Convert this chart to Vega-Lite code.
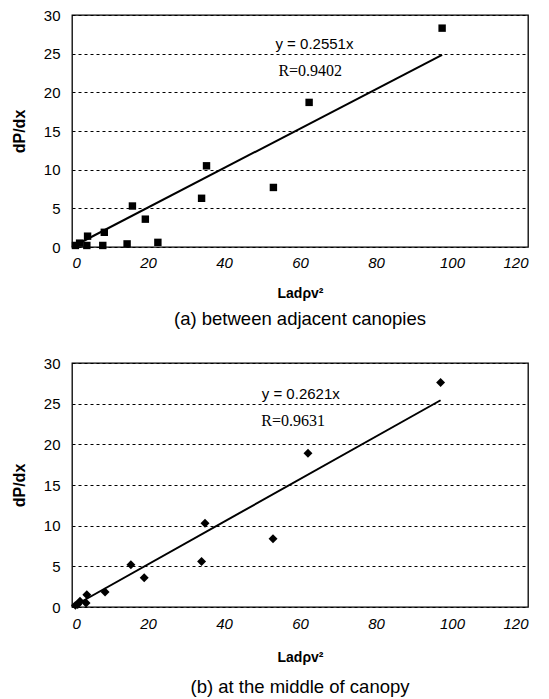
{
  "$schema": "https://vega.github.io/schema/vega-lite/v6.json",
  "background": "white",
  "padding": {"left": 10, "top": 7, "right": 5, "bottom": 2},
  "spacing": 25,
  "datasets": {
    "a_pts": [
      {"x": 97.4, "y": 28.3}, {"x": 62.4, "y": 18.7}, {"x": 35.4, "y": 10.5},
      {"x": 34.1, "y": 6.3}, {"x": 53.0, "y": 7.7}, {"x": 15.9, "y": 5.3},
      {"x": 19.3, "y": 3.6}, {"x": 22.6, "y": 0.6}, {"x": 14.5, "y": 0.4},
      {"x": 8.5, "y": 1.9}, {"x": 8.1, "y": 0.2}, {"x": 4.1, "y": 1.4},
      {"x": 3.9, "y": 0.2}, {"x": 2.0, "y": 0.5}, {"x": 0.9, "y": 0.2}
    ],
    "a_fit": [{"x": 0, "y": 0}, {"x": 97.4, "y": 24.85}],
    "a_txt": [
      {"x": 63.8, "y": 26.3, "label": "y = 0.2551x", "kind": "eq"},
      {"x": 62.7, "y": 22.8, "label": "R=0.9402", "kind": "r"}
    ],
    "b_pts": [
      {"x": 97.0, "y": 27.6}, {"x": 62.1, "y": 18.9}, {"x": 35.0, "y": 10.3},
      {"x": 34.1, "y": 5.6}, {"x": 52.9, "y": 8.4}, {"x": 15.5, "y": 5.2},
      {"x": 19.0, "y": 3.6}, {"x": 8.7, "y": 1.85}, {"x": 3.9, "y": 1.5},
      {"x": 3.7, "y": 0.5}, {"x": 2.1, "y": 0.7}, {"x": 0.9, "y": 0.2},
      {"x": 1.5, "y": 0.3}
    ],
    "b_fit": [{"x": 0, "y": 0}, {"x": 97.0, "y": 25.42}],
    "b_txt": [
      {"x": 60.2, "y": 26.2, "label": "y = 0.2621x", "kind": "eq"},
      {"x": 58.2, "y": 22.9, "label": "R=0.9631", "kind": "r"}
    ]
  },
  "config": {
    "view": {"stroke": "black", "strokeWidth": 1.3},
    "font": "Liberation Sans",
    "axis": {
      "labelColor": "black", "titleColor": "black", "domainColor": "black", "tickColor": "black"
    },
    "title": {
      "orient": "bottom", "anchor": "middle", "fontSize": 18.5, "fontWeight": "normal",
      "font": "Liberation Sans", "color": "black", "offset": 10
    }
  },
  "vconcat": [
    {
      "width": 456, "height": 232,
      "title": {"text": "(a) between adjacent canopies"},
      "layer": [
        {
          "data": {"name": "a_fit"},
          "mark": {"type": "line", "color": "black", "strokeWidth": 2},
          "encoding": {
            "x": {"field": "x", "type": "quantitative", "scale": {"domain": [0, 120], "nice": false},
              "axis": {"values": [0, 20, 40, 60, 80, 100, 120], "tickCount": 10, "grid": false, "ticks": false, "domain": false, "labelOverlap": false,
                "labelFont": "Liberation Sans", "labelFontStyle": "italic", "labelFontSize": 15, "labelPadding": 8,
                "title": "Ladρv²", "titleFont": "Liberation Sans", "titleFontSize": 14, "titleFontWeight": "bold", "titlePadding": 16}},
            "y": {"field": "y", "type": "quantitative", "scale": {"domain": [0, 30], "nice": false},
              "axis": {"values": [0, 5, 10, 15, 20, 25, 30], "tickCount": 10, "grid": true, "gridColor": "black", "gridDash": [3, 3], "gridWidth": 1, "gridOpacity": 1,
                "labelOverlap": false, "ticks": false, "domain": false, "labelFont": "Liberation Sans", "labelFontSize": 15, "labelPadding": 12,
                "title": "dP/dx", "titleFont": "Liberation Sans", "titleFontSize": 16, "titleFontWeight": "bold", "titlePadding": 16}}
          }
        },
        {
          "data": {"name": "a_pts"},
          "mark": {"type": "square", "filled": true, "color": "black", "size": 55, "opacity": 1},
          "encoding": {
            "x": {"field": "x", "type": "quantitative"},
            "y": {"field": "y", "type": "quantitative"}
          }
        },
        {
          "data": {"name": "a_txt"},
          "transform": [{"filter": "datum.kind === 'eq'"}],
          "mark": {"type": "text", "font": "Liberation Sans", "fontSize": 15, "color": "black"},
          "encoding": {
            "x": {"field": "x", "type": "quantitative"},
            "y": {"field": "y", "type": "quantitative"},
            "text": {"field": "label"}
          }
        },
        {
          "data": {"name": "a_txt"},
          "transform": [{"filter": "datum.kind === 'r'"}],
          "mark": {"type": "text", "font": "Liberation Serif", "fontSize": 16, "color": "black"},
          "encoding": {
            "x": {"field": "x", "type": "quantitative"},
            "y": {"field": "y", "type": "quantitative"},
            "text": {"field": "label"}
          }
        }
      ]
    },
    {
      "width": 456, "height": 244,
      "title": {"text": "(b) at the middle of canopy", "offset": 14},
      "layer": [
        {
          "data": {"name": "b_fit"},
          "mark": {"type": "line", "color": "black", "strokeWidth": 2},
          "encoding": {
            "x": {"field": "x", "type": "quantitative", "scale": {"domain": [0, 120], "nice": false},
              "axis": {"values": [0, 20, 40, 60, 80, 100, 120], "tickCount": 10, "grid": false, "ticks": false, "domain": false, "labelOverlap": false,
                "labelFont": "Liberation Sans", "labelFontStyle": "italic", "labelFontSize": 15, "labelPadding": 9,
                "title": "Ladρv²", "titleFont": "Liberation Sans", "titleFontSize": 14, "titleFontWeight": "bold", "titlePadding": 19}},
            "y": {"field": "y", "type": "quantitative", "scale": {"domain": [0, 30], "nice": false},
              "axis": {"values": [0, 5, 10, 15, 20, 25, 30], "tickCount": 10, "grid": true, "gridColor": "black", "gridDash": [3, 3], "gridWidth": 1, "gridOpacity": 1,
                "labelOverlap": false, "ticks": false, "domain": false, "labelFont": "Liberation Sans", "labelFontSize": 15, "labelPadding": 12,
                "title": "dP/dx", "titleFont": "Liberation Sans", "titleFontSize": 16, "titleFontWeight": "bold", "titlePadding": 16}}
          }
        },
        {
          "data": {"name": "b_pts"},
          "mark": {"type": "point", "shape": "diamond", "filled": true, "color": "black", "size": 80, "opacity": 1},
          "encoding": {
            "x": {"field": "x", "type": "quantitative"},
            "y": {"field": "y", "type": "quantitative"}
          }
        },
        {
          "data": {"name": "b_txt"},
          "transform": [{"filter": "datum.kind === 'eq'"}],
          "mark": {"type": "text", "font": "Liberation Sans", "fontSize": 15, "color": "black"},
          "encoding": {
            "x": {"field": "x", "type": "quantitative"},
            "y": {"field": "y", "type": "quantitative"},
            "text": {"field": "label"}
          }
        },
        {
          "data": {"name": "b_txt"},
          "transform": [{"filter": "datum.kind === 'r'"}],
          "mark": {"type": "text", "font": "Liberation Serif", "fontSize": 16, "color": "black"},
          "encoding": {
            "x": {"field": "x", "type": "quantitative"},
            "y": {"field": "y", "type": "quantitative"},
            "text": {"field": "label"}
          }
        }
      ]
    }
  ]
}
